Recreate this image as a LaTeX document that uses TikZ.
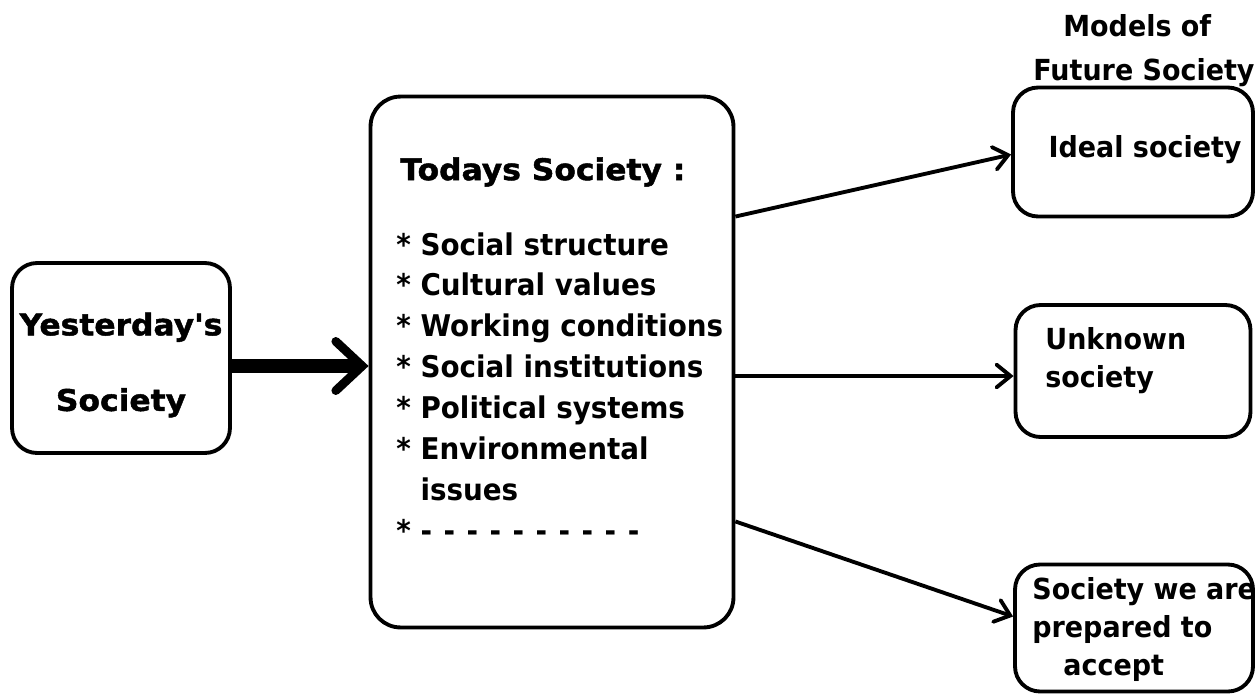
\documentclass[tikz,border=0pt]{standalone}
\usepackage{fontspec}
\setmainfont[FakeStretch=0.93]{DejaVu Sans}
\newfontfamily\heavyfont[FakeBold=1.5,FakeStretch=1.05]{DejaVu Sans}
\usetikzlibrary{arrows.meta,positioning}

\begin{document}
\begin{tikzpicture}[x=0.02cm,y=-0.02cm,
		box/.style={draw, line width=2.2pt, rounded corners=0.5cm, inner sep=0pt},
		txt/.style={align=left, inner sep=0pt, font=\fontsize{16.5}{21.6}\selectfont\bfseries},
		head/.style={inner sep=0pt, font=\fontsize{17}{21}\selectfont\heavyfont\bfseries},
		flow/.style={line width=2.2pt, -{Straight Barb[length=8pt,width=13pt,line cap=round]}},
		bigflow/.style={line width=8pt, -{Straight Barb[length=15pt,width=28pt,line width=5pt,line cap=round]}}
	]
	\useasboundingbox (0,0) rectangle (1257,694);
	
	% boxes
	\node[box, minimum width=4.36cm, minimum height=3.8cm] (yest) at (121,358) {};
	\node[box, minimum width=7.26cm, minimum height=10.62cm, rounded corners=0.6cm] (today) at (552,362) {};
	\node[box, minimum width=4.8cm, minimum height=2.58cm] (ideal) at (1133,152) {};
	\node[box, minimum width=4.7cm, minimum height=2.64cm] (unknown) at (1133,371) {};
	\node[box, minimum width=4.76cm, minimum height=2.54cm] (accept) at (1134,628) {};
	
	% texts
	\node[head, align=center, font=\fontsize{17}{43}\selectfont\heavyfont\bfseries] (yest_txt) at (121,365) {Yesterday's\\Society};
	\node[head, anchor=west] (today_head) at (400,172) {Todays Society :};
	\node[txt, anchor=north west, font=\fontsize{17}{23.3}\selectfont\bfseries] (today_list) at (396,232) {%
		* Social structure\\
		* Cultural values\\
		* Working conditions\\
		* Social institutions\\
		* Political systems\\
		* Environmental\\
		\phantom{* }issues\\
		* \foreach \d in {1,...,10}{-\hspace{0.23cm}}};
	\node[txt] (ideal_txt) at (1145,150) {Ideal society};
	\node[txt, anchor=north west] (unknown_txt) at (1045,327) {Unknown\\society};
	\node[txt, anchor=north west] (accept_txt) at (1032,577) {Society we are\\prepared to\\\hspace{0.62cm}accept};
	\node[txt, anchor=north west, font=\fontsize{16.5}{25}\selectfont\bfseries] (models) at (1033,14) {\hspace{0.6cm}Models of\\Future Society};
	
	% connectors
	\draw[bigflow] ([yshift=-0.16cm]yest.east) -- ([yshift=-0.16cm]yest.east -| today.west);
	\draw[flow] ([yshift=2.91cm]today.east) -- ([yshift=-0.05cm]ideal.west);
	\draw[flow] ([yshift=-0.28cm]today.east) -- ([yshift=-0.28cm]today.east -| unknown.west);
	\draw[flow] ([yshift=-3.19cm]today.east) -- ([yshift=0.23cm]accept.west);
\end{tikzpicture}
\end{document}
